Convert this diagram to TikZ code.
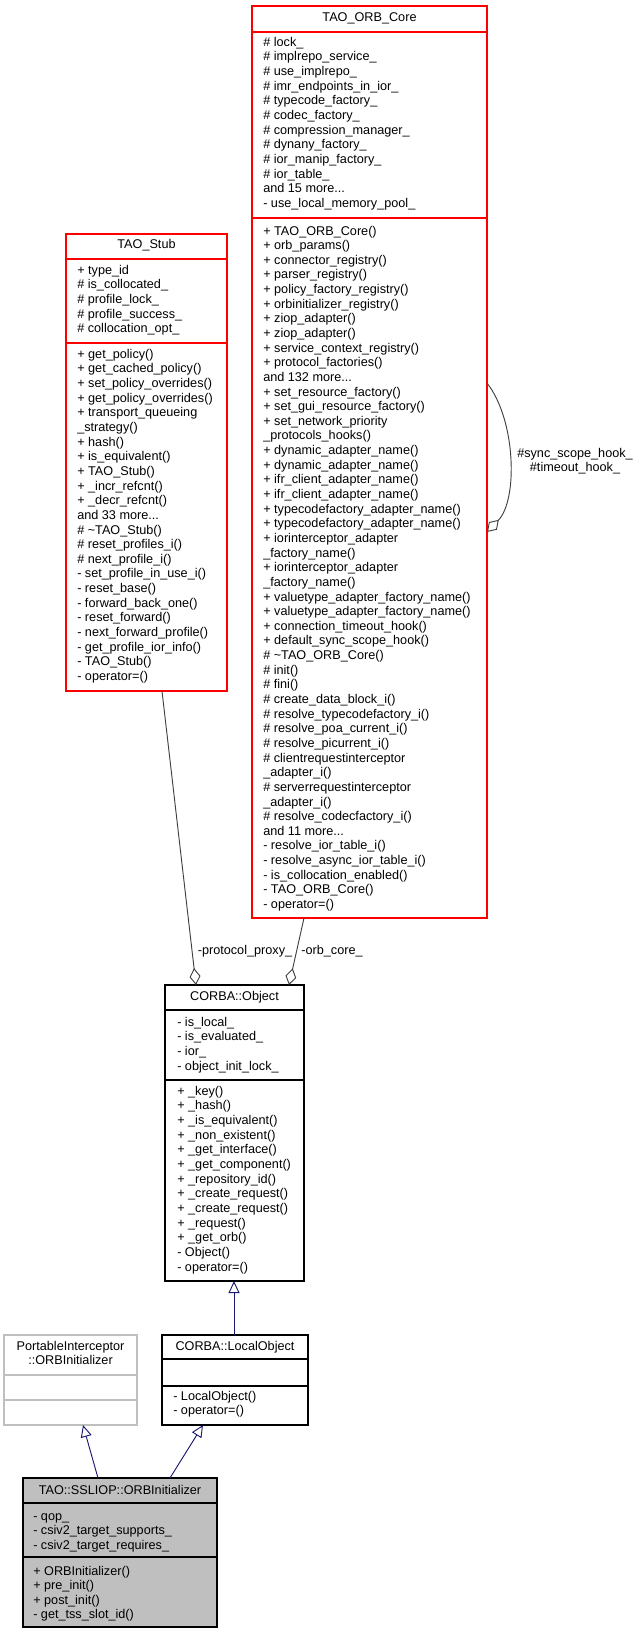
\documentclass[tikz,border=0pt]{standalone}
\usepackage{fontspec}
\setmainfont{Liberation Sans}
\usetikzlibrary{arrows.meta}
\catcode`\_=12
\definecolor{navy}{HTML}{191970}
\definecolor{edgegray}{HTML}{404040}
\definecolor{lgray}{HTML}{BFBFBF}
\newcommand\tdots{...}
\newcommand\clsbox[6]{\node[#6, anchor=north west, minimum width={(#4-#2)*0.75pt}, minimum height={(#5-#3)*0.75pt}] (#1) at (#2,#3) {};}
\newcommand\mlines[3]{\foreach \t [count=\i from 0] in {#3} \node[txt] at (#1, {#2+\i*14.64}) {\t};}
\begin{document}
\begin{tikzpicture}[x=0.75pt,y=-0.75pt,
  cls/.style={draw, line width=0.9pt, inner sep=0, outer sep=0},
  txt/.style={anchor=west, inner sep=0, font=\fontsize{9.5}{11}\selectfont, text height=7pt, text depth=2pt},
  ttl/.style={anchor=center, inner sep=0, font=\fontsize{9.5}{11}\selectfont, text height=7pt, text depth=2pt, align=center},
  lbl/.style={inner sep=0, font=\fontsize{9.5}{11}\selectfont, align=center},
  agg/.style={draw=edgegray, line width=0.7pt, -{Diamond[open, length=12.75pt, width=8.25pt]}},
  inh/.style={draw=navy, line width=0.7pt, -{Triangle[open, length=9pt, width=8.25pt, fill=white]}}]
\useasboundingbox (0,0) rectangle (640,1635);
% TAO_ORB_Core
\clsbox{orb}{252}{6}{487}{918}{cls, draw=red}
\node[ttl] (orbt) at (369.5,18.5) {TAO_ORB_Core};
\draw[red, line width=0.9pt] (orb.west |- 0,32) -- (orb.east |- 0,32);
\draw[red, line width=0.9pt] (orb.west |- 0,218) -- (orb.east |- 0,218);
\mlines{263}{43}{\# lock_, \# implrepo_service_, \# use_implrepo_, \# imr_endpoints_in_ior_, \# typecode_factory_, \# codec_factory_, \# compression_manager_, \# dynany_factory_, \# ior_manip_factory_, \# ior_table_, and 15 more\tdots, - use_local_memory_pool_}
\mlines{263}{231.7}{+ TAO_ORB_Core(), + orb_params(), + connector_registry(), + parser_registry(), + policy_factory_registry(), + orbinitializer_registry(), + ziop_adapter(), + ziop_adapter(), + service_context_registry(), + protocol_factories(), and 132 more\tdots, + set_resource_factory(), + set_gui_resource_factory(), + set_network_priority, _protocols_hooks(), + dynamic_adapter_name(), + dynamic_adapter_name(), + ifr_client_adapter_name(), + ifr_client_adapter_name(), + typecodefactory_adapter_name(), + typecodefactory_adapter_name(), + iorinterceptor_adapter, _factory_name(), + iorinterceptor_adapter, _factory_name(), + valuetype_adapter_factory_name(), + valuetype_adapter_factory_name(), + connection_timeout_hook(), + default_sync_scope_hook(), \# \textasciitilde TAO_ORB_Core(), \# init(), \# fini(), \# create_data_block_i(), \# resolve_typecodefactory_i(), \# resolve_poa_current_i(), \# resolve_picurrent_i(), \# clientrequestinterceptor, _adapter_i(), \# serverrequestinterceptor, _adapter_i(), \# resolve_codecfactory_i(), and 11 more\tdots, - resolve_ior_table_i(), - resolve_async_ior_table_i(), - is_collocation_enabled(), - TAO_ORB_Core(), - operator=()}
% TAO_Stub
\clsbox{stub}{66}{234}{227}{691}{cls, draw=red}
\node[ttl] (stubt) at (146.5,245.5) {TAO_Stub};
\draw[red, line width=0.9pt] (stub.west |- 0,259) -- (stub.east |- 0,259);
\draw[red, line width=0.9pt] (stub.west |- 0,343) -- (stub.east |- 0,343);
\mlines{77}{271}{+ type_id, \# is_collocated_, \# profile_lock_, \# profile_success_, \# collocation_opt_}
\mlines{77}{355}{+ get_policy(), + get_cached_policy(), + set_policy_overrides(), + get_policy_overrides(), + transport_queueing, _strategy(), + hash(), + is_equivalent(), + TAO_Stub(), + _incr_refcnt(), + _decr_refcnt(), and 33 more\tdots, \# \textasciitilde TAO_Stub(), \# reset_profiles_i(), \# next_profile_i(), - set_profile_in_use_i(), - reset_base(), - forward_back_one(), - reset_forward(), - next_forward_profile(), - get_profile_ior_info(), - TAO_Stub(), - operator=()}
% CORBA::Object
\clsbox{obj}{165}{985}{304}{1281}{cls, draw=black}
\node[ttl] (objt) at (234.5,997) {CORBA::Object};
\draw[line width=0.9pt] (obj.west |- 0,1010) -- (obj.east |- 0,1010);
\draw[line width=0.9pt] (obj.west |- 0,1080) -- (obj.east |- 0,1080);
\mlines{177}{1023}{- is_local_, - is_evaluated_, - ior_, - object_init_lock_}
\mlines{177}{1092}{+ _key(), + _hash(), + _is_equivalent(), + _non_existent(), + _get_interface(), + _get_component(), + _repository_id(), + _create_request(), + _create_request(), + _request(), + _get_orb(), - Object(), - operator=()}
% PortableInterceptor::ORBInitializer
\clsbox{port}{4}{1335}{137}{1425}{cls, draw=lgray}
\node[ttl] (portt) at (70.5,1347) {PortableInterceptor};
\node[ttl] (portt2) at (70.5,1361) {::ORBInitializer};
\draw[lgray, line width=0.9pt] (port.west |- 0,1375) -- (port.east |- 0,1375);
\draw[lgray, line width=0.9pt] (port.west |- 0,1400) -- (port.east |- 0,1400);
% CORBA::LocalObject
\clsbox{loc}{162}{1335}{308}{1425}{cls, draw=black}
\node[ttl] (loct) at (235,1347) {CORBA::LocalObject};
\draw[line width=0.9pt] (loc.west |- 0,1359) -- (loc.east |- 0,1359);
\draw[line width=0.9pt] (loc.west |- 0,1386) -- (loc.east |- 0,1386);
\mlines{173}{1397}{- LocalObject(), - operator=()}
% TAO::SSLIOP::ORBInitializer
\clsbox{ssl}{23}{1478}{217}{1627}{cls, draw=black, fill=lgray}
\node[ttl] (sslt) at (120,1491) {TAO::SSLIOP::ORBInitializer};
\draw[line width=0.9pt] (ssl.west |- 0,1503) -- (ssl.east |- 0,1503);
\draw[line width=0.9pt] (ssl.west |- 0,1557) -- (ssl.east |- 0,1557);
\mlines{33}{1516.7}{- qop_, - csiv2_target_supports_, - csiv2_target_requires_}
\mlines{33}{1571.7}{+ ORBInitializer(), + pre_init(), + post_init(), - get_tss_slot_id()}
% aggregation
\draw[agg] ([xshift=72pt]stub.south west) -- ([xshift=23.25pt]obj.north west);
\draw[agg] ([xshift=39pt]orb.south west) -- ([xshift=93pt]obj.north west);
\node[lbl] (l1) at (245,951) {-protocol_proxy_};
\node[lbl] (l2) at (332,951) {-orb_core_};
\draw[agg] ([yshift=-282.75pt]orb.north east) .. controls (516,420) and (518,500) .. ([yshift=-394.5pt]orb.north east);
\node[lbl] (l3) at (575,461) {\#sync_scope_hook_\\\#timeout_hook_};
% inheritance
\draw[inh] ([xshift=56.25pt]ssl.north west) -- ([xshift=59.25pt]port.south west);
\draw[inh] ([xshift=110.25pt]ssl.north west) -- ([xshift=30.75pt]loc.south west);
\draw[inh] ([xshift=54pt]loc.north west) -- ([xshift=51.75pt]obj.south west);
\end{tikzpicture}
\end{document}
